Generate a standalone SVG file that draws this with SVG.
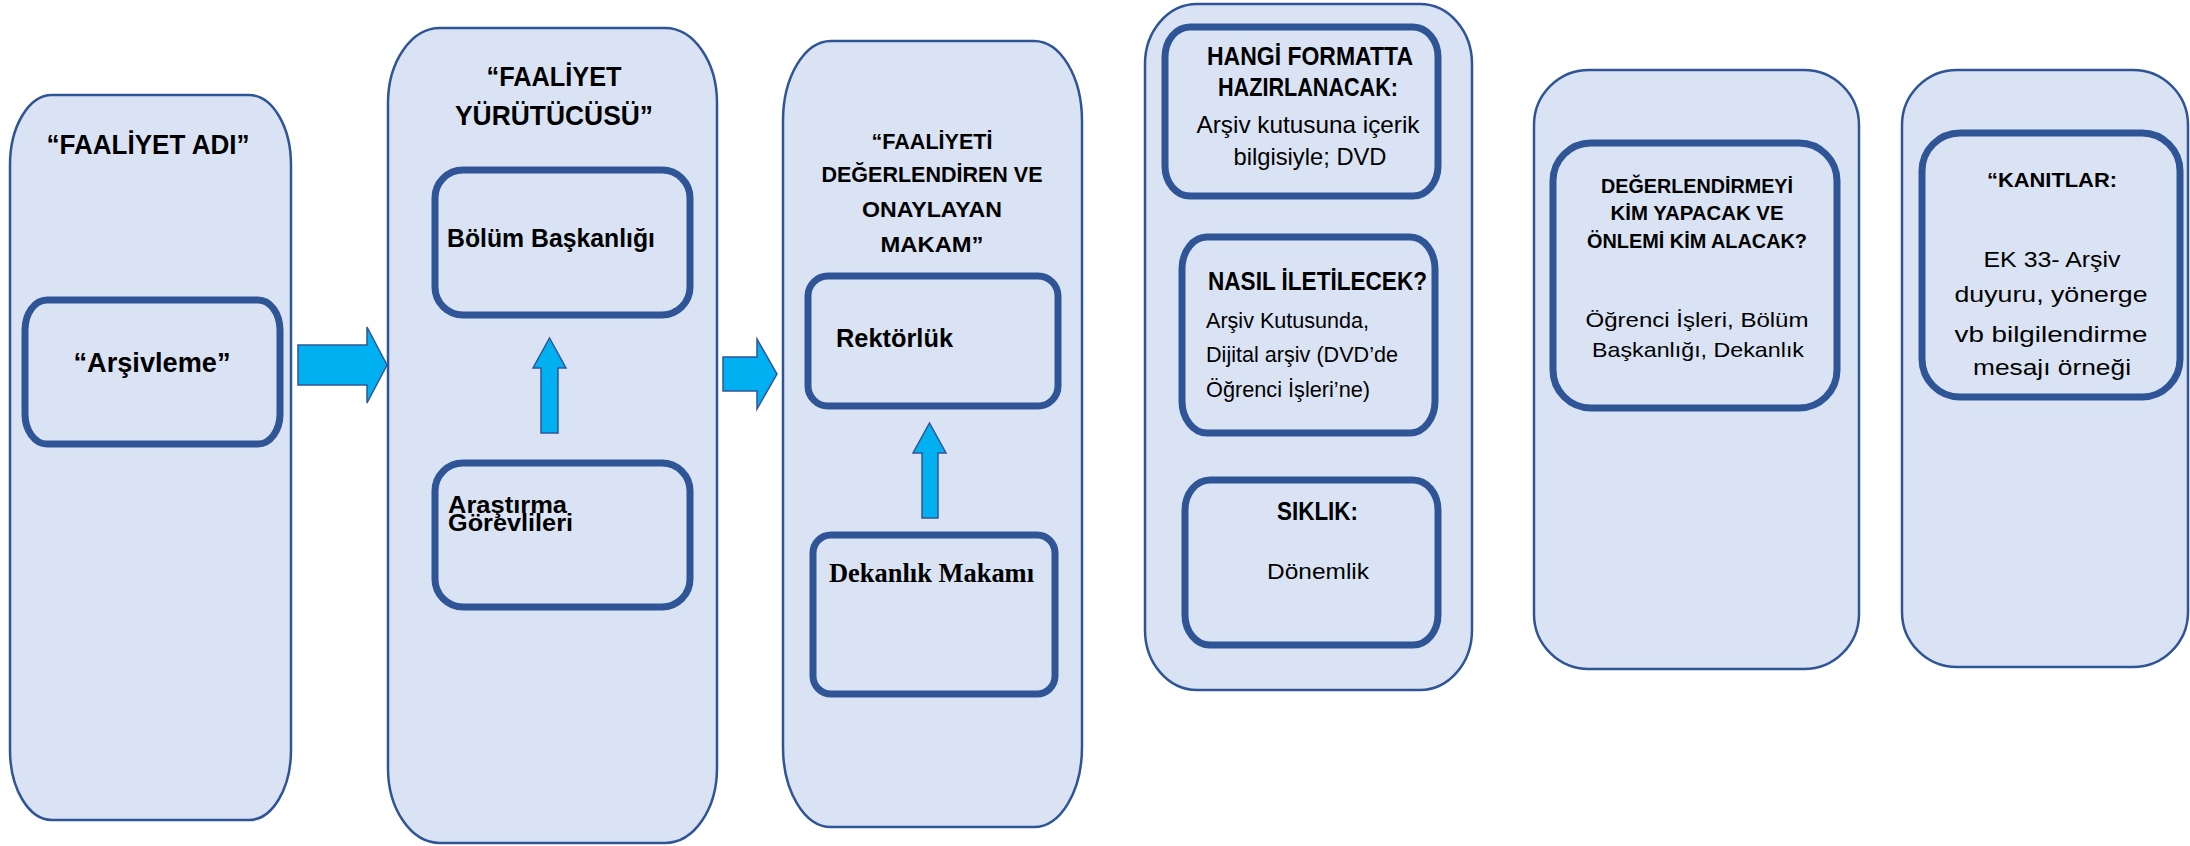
<svg xmlns="http://www.w3.org/2000/svg" width="2190" height="846" viewBox="0 0 2190 846">
<style>
.outer{fill:#dae3f3;stroke:#2f5597;stroke-width:2.5}
.inner{fill:#dae3f3;stroke:#2f5597;stroke-width:7}
.arrow{fill:#00b0f0;stroke:#2f5597;stroke-width:1.5;stroke-linejoin:miter}
text{fill:#000;font-family:"Liberation Sans",Arial,sans-serif}
.b{font-weight:bold}
.c{text-anchor:middle}
.s{font-family:"Liberation Serif","Times New Roman",serif;font-weight:bold}
</style>
<rect width="2190" height="846" fill="#ffffff"/>

<g id="col1">
<rect class="outer" x="10" y="95" width="281" height="725" rx="42" ry="70"/>
<text class="b c" x="148" y="154" font-size="28" textLength="203" lengthAdjust="spacingAndGlyphs">“FAALİYET ADI”</text>
<g id="arsivleme">
<rect class="inner" x="25" y="300" width="255" height="144" rx="22" ry="30"/>
<text class="b c" x="152" y="372" font-size="28" textLength="157" lengthAdjust="spacingAndGlyphs">“Arşivleme”</text>
</g>
</g>

<g id="col2">
<rect class="outer" x="388" y="28" width="329" height="815" rx="52" ry="75"/>
<text class="b c" x="554" y="86" font-size="28" textLength="135" lengthAdjust="spacingAndGlyphs">“FAALİYET</text>
<text class="b c" x="554" y="125" font-size="28" textLength="198" lengthAdjust="spacingAndGlyphs">YÜRÜTÜCÜSÜ”</text>
<g id="bolum">
<rect class="inner" x="435" y="170" width="255" height="145" rx="28" ry="28"/>
<text class="b" x="447" y="247" font-size="25" textLength="208" lengthAdjust="spacingAndGlyphs">Bölüm Başkanlığı</text>
</g>
<g id="arastirma">
<rect class="inner" x="435" y="463" width="255" height="144" rx="28" ry="28"/>
<text class="b" x="448" y="513" font-size="23" textLength="119" lengthAdjust="spacingAndGlyphs">Araştırma</text>
<text class="b" x="448" y="531" font-size="23" textLength="125" lengthAdjust="spacingAndGlyphs">Görevlileri</text>
</g>
</g>

<g id="col3">
<rect class="outer" x="783" y="41" width="299" height="786" rx="48" ry="80"/>
<text class="b c" x="932" y="149" font-size="22" textLength="121" lengthAdjust="spacingAndGlyphs">“FAALİYETİ</text>
<text class="b c" x="932" y="182" font-size="22" textLength="221" lengthAdjust="spacingAndGlyphs">DEĞERLENDİREN VE</text>
<text class="b c" x="932" y="217" font-size="22" textLength="140" lengthAdjust="spacingAndGlyphs">ONAYLAYAN</text>
<text class="b c" x="932" y="252" font-size="22" textLength="103" lengthAdjust="spacingAndGlyphs">MAKAM”</text>
<g id="rektorluk">
<rect class="inner" x="808" y="276" width="250" height="130" rx="20" ry="20"/>
<text class="b" x="836" y="347" font-size="25" textLength="117" lengthAdjust="spacingAndGlyphs">Rektörlük</text>
</g>
<g id="dekanlik">
<rect class="inner" x="813" y="535" width="242" height="159" rx="18" ry="18"/>
<text class="s" x="829" y="582" font-size="27" textLength="205" lengthAdjust="spacingAndGlyphs">Dekanlık Makamı</text>
</g>
</g>

<g id="col4">
<rect class="outer" x="1145" y="4" width="327" height="686" rx="52" ry="60"/>
<g id="format">
<rect class="inner" x="1165" y="27" width="273" height="169" rx="25" ry="30"/>
<text class="b c" x="1310" y="65" font-size="25" textLength="206" lengthAdjust="spacingAndGlyphs">HANGİ FORMATTA</text>
<text class="b c" x="1308" y="96" font-size="25" textLength="180" lengthAdjust="spacingAndGlyphs">HAZIRLANACAK:</text>
<text class="c" x="1308" y="133" font-size="24" textLength="223" lengthAdjust="spacingAndGlyphs">Arşiv kutusuna içerik</text>
<text class="c" x="1310" y="165" font-size="24" textLength="153" lengthAdjust="spacingAndGlyphs">bilgisiyle; DVD</text>
</g>
<g id="iletim">
<rect class="inner" x="1182" y="237" width="253" height="196" rx="25" ry="32"/>
<text class="b" x="1208" y="290" font-size="25" textLength="219" lengthAdjust="spacingAndGlyphs">NASIL İLETİLECEK?</text>
<text x="1206" y="328" font-size="22" textLength="163" lengthAdjust="spacingAndGlyphs">Arşiv Kutusunda,</text>
<text x="1206" y="362" font-size="22" textLength="192" lengthAdjust="spacingAndGlyphs">Dijital arşiv (DVD’de</text>
<text x="1206" y="397" font-size="22" textLength="164" lengthAdjust="spacingAndGlyphs">Öğrenci İşleri’ne)</text>
</g>
<g id="siklik">
<rect class="inner" x="1185" y="480" width="253" height="165" rx="25" ry="30"/>
<text class="b" x="1277" y="520" font-size="25" textLength="81" lengthAdjust="spacingAndGlyphs">SIKLIK:</text>
<text x="1267" y="579" font-size="22" textLength="102" lengthAdjust="spacingAndGlyphs">Dönemlik</text>
</g>
</g>

<g id="col5">
<rect class="outer" x="1534" y="70" width="325" height="599" rx="55" ry="55"/>
<g id="degerlendirme">
<rect class="inner" x="1553" y="143" width="284" height="265" rx="38" ry="38"/>
<text class="b c" x="1697" y="193" font-size="21" textLength="192" lengthAdjust="spacingAndGlyphs">DEĞERLENDİRMEYİ</text>
<text class="b c" x="1697" y="220" font-size="21" textLength="173" lengthAdjust="spacingAndGlyphs">KİM YAPACAK VE</text>
<text class="b c" x="1697" y="248" font-size="21" textLength="220" lengthAdjust="spacingAndGlyphs">ÖNLEMİ KİM ALACAK?</text>
<text class="c" x="1697" y="327" font-size="21" textLength="223" lengthAdjust="spacingAndGlyphs">Öğrenci İşleri, Bölüm</text>
<text class="c" x="1698" y="357" font-size="21" textLength="212" lengthAdjust="spacingAndGlyphs">Başkanlığı, Dekanlık</text>
</g>
</g>

<g id="col6">
<rect class="outer" x="1902" y="70" width="286" height="597" rx="55" ry="55"/>
<g id="kanitlar">
<rect class="inner" x="1922" y="133" width="258" height="264" rx="38" ry="38"/>
<text class="b c" x="2052" y="187" font-size="21" textLength="130" lengthAdjust="spacingAndGlyphs">“KANITLAR:</text>
<text class="c" x="2052" y="267" font-size="22" textLength="137" lengthAdjust="spacingAndGlyphs">EK 33- Arşiv</text>
<text class="c" x="2051" y="302" font-size="22" textLength="193" lengthAdjust="spacingAndGlyphs">duyuru, yönerge</text>
<text class="c" x="2051" y="342" font-size="22" textLength="193" lengthAdjust="spacingAndGlyphs">vb bilgilendirme</text>
<text class="c" x="2052" y="375" font-size="22" textLength="158" lengthAdjust="spacingAndGlyphs">mesajı örneği</text>
</g>
</g>

<g id="connectors">
<polygon class="arrow" points="298,345 367,345 367,327 387,365 367,403 367,385 298,385"/>
<polygon class="arrow" points="723,357 757,357 757,339 777,374 757,409 757,391 723,391"/>
<polygon class="arrow" points="541,433 541,368 533,368 549.5,338 566,368 558,368 558,433"/>
<polygon class="arrow" points="922,518 922,453 913,453 929.5,423 946,453 938,453 938,518"/>
</g>
</svg>
